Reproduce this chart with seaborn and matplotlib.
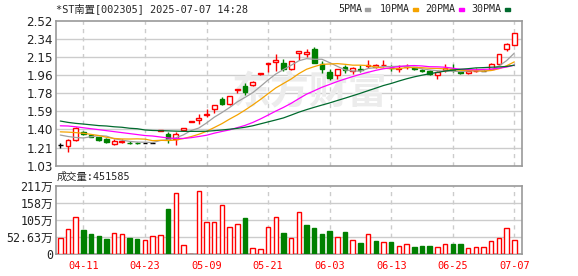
import numpy as np
import pandas as pd
import matplotlib
matplotlib.use("Agg")
import matplotlib.pyplot as plt
from matplotlib.patches import Rectangle
import seaborn as sns

# ---------------- data ----------------
title = "*ST南置[002305] 2025-07-07 14:28"
date_labels = ["04-11", "04-23", "05-09", "05-21", "06-03", "06-13", "06-25", "07-07"]
date_pos = [3, 11, 19, 27, 35, 43, 51, 59]

open_ = [1.243, 1.236, 1.294, 1.380, 1.345, 1.325, 1.300, 1.256, 1.275, 1.268,
         1.265, 1.263, 1.267, 1.390, 1.355, 1.305, 1.395, 1.482, 1.497, 1.550,
         1.610, 1.720, 1.660, 1.810, 1.850, 1.860, 1.975, 2.078, 2.095, 2.090,
         2.020, 2.190, 2.175, 2.225, 2.080, 1.990, 1.960, 2.047, 2.006, 2.020,
         2.058, 2.040, 2.066, 2.033, 2.028, 2.045, 2.040, 2.013, 2.006, 1.965,
         2.016, 2.024, 1.996, 1.980, 2.000, 2.006, 2.020, 2.080, 2.226, 2.270]
close = [1.243, 1.294, 1.420, 1.355, 1.330, 1.295, 1.270, 1.285, 1.287, 1.262,
         1.260, 1.263, 1.267, 1.394, 1.300, 1.355, 1.420, 1.486, 1.523, 1.560,
         1.650, 1.660, 1.746, 1.815, 1.790, 1.890, 1.980, 2.082, 2.120, 2.020,
         2.106, 2.210, 2.195, 2.090, 2.020, 1.930, 2.020, 2.013, 2.030, 2.015,
         2.068, 2.062, 2.068, 2.030, 2.032, 2.048, 2.020, 2.000, 1.970, 1.990,
         2.030, 2.013, 1.980, 2.000, 2.006, 2.006, 2.080, 2.180, 2.280, 2.390]
high = [1.260, 1.300, 1.430, 1.390, 1.360, 1.330, 1.310, 1.300, 1.300, 1.280,
        1.270, 1.268, 1.272, 1.394, 1.380, 1.380, 1.420, 1.486, 1.560, 1.610,
        1.650, 1.740, 1.750, 1.815, 1.877, 1.900, 1.980, 2.082, 2.180, 2.130,
        2.110, 2.210, 2.225, 2.250, 2.110, 2.020, 2.020, 2.060, 2.047, 2.060,
        2.116, 2.080, 2.116, 2.060, 2.060, 2.080, 2.045, 2.020, 2.010, 2.000,
        2.080, 2.070, 2.000, 2.005, 2.030, 2.010, 2.090, 2.180, 2.290, 2.390]
low = [1.215, 1.170, 1.284, 1.345, 1.320, 1.280, 1.260, 1.240, 1.260, 1.255,
       1.255, 1.260, 1.262, 1.390, 1.266, 1.243, 1.395, 1.482, 1.455, 1.530,
       1.570, 1.650, 1.650, 1.780, 1.756, 1.850, 1.960, 1.996, 2.000, 2.000,
       2.010, 2.120, 2.150, 2.085, 1.985, 1.910, 1.920, 1.980, 1.970, 1.996,
       2.030, 2.030, 2.047, 2.000, 1.990, 2.020, 2.010, 1.995, 1.965, 1.918,
       1.996, 1.990, 1.975, 1.975, 1.990, 2.000, 2.015, 2.070, 2.210, 2.270]
pre_close = 1.243
volume_wan = [49, 77, 116, 75, 62, 56, 47, 64, 61, 50,
              47, 44, 55, 58, 139, 187, 28, 0, 193, 99,
              99, 151, 83, 93, 111, 18, 15, 83, 116, 65,
              49, 129, 90, 81, 62, 72, 52, 68, 43, 35,
              61, 41, 37, 38, 25, 31, 22, 26, 26, 21,
              31, 32, 32, 18, 21, 21, 40, 49, 80, 45.16]
last_volume = 451585

ma5 = [1.345, 1.330, 1.320, 1.315, 1.328, 1.339, 1.334, 1.307, 1.293, 1.280,
       1.273, 1.271, 1.268, 1.289, 1.297, 1.316, 1.347, 1.391, 1.417, 1.469,
       1.528, 1.576, 1.628, 1.686, 1.732, 1.780, 1.844, 1.911, 1.972, 2.018,
       2.062, 2.108, 2.130, 2.124, 2.124, 2.089, 2.051, 2.015, 2.003, 2.002,
       2.029, 2.038, 2.049, 2.049, 2.052, 2.048, 2.040, 2.026, 2.014, 2.006,
       2.002, 2.001, 1.997, 2.003, 2.006, 2.001, 2.014, 2.054, 2.110, 2.187]
ma10 = [1.378, 1.375, 1.370, 1.363, 1.352, 1.340, 1.322, 1.310, 1.305, 1.304,
        1.306, 1.303, 1.287, 1.291, 1.288, 1.294, 1.309, 1.329, 1.353, 1.383,
        1.422, 1.462, 1.509, 1.552, 1.601, 1.654, 1.710, 1.770, 1.829, 1.875,
        1.921, 1.976, 2.021, 2.048, 2.071, 2.075, 2.079, 2.072, 2.063, 2.063,
        2.059, 2.044, 2.032, 2.026, 2.027, 2.039, 2.039, 2.037, 2.031, 2.029,
        2.025, 2.020, 2.011, 2.008, 2.006, 2.002, 2.008, 2.026, 2.057, 2.097]
ma20 = [1.440, 1.438, 1.430, 1.420, 1.410, 1.400, 1.390, 1.380, 1.370, 1.360,
        1.350, 1.340, 1.335, 1.325, 1.315, 1.310, 1.310, 1.318, 1.330, 1.343,
        1.364, 1.382, 1.398, 1.421, 1.444, 1.474, 1.510, 1.550, 1.591, 1.629,
        1.671, 1.719, 1.765, 1.800, 1.836, 1.865, 1.895, 1.921, 1.946, 1.969,
        1.990, 2.010, 2.026, 2.037, 2.049, 2.057, 2.059, 2.055, 2.047, 2.046,
        2.042, 2.032, 2.021, 2.017, 2.016, 2.020, 2.023, 2.031, 2.044, 2.063]
ma30 = [1.489, 1.475, 1.465, 1.458, 1.450, 1.442, 1.438, 1.430, 1.425, 1.415,
        1.410, 1.397, 1.392, 1.390, 1.388, 1.385, 1.383, 1.383, 1.383, 1.384,
        1.390, 1.397, 1.405, 1.414, 1.425, 1.440, 1.460, 1.480, 1.500, 1.521,
        1.550, 1.580, 1.606, 1.630, 1.653, 1.675, 1.700, 1.724, 1.749, 1.774,
        1.801, 1.827, 1.854, 1.875, 1.900, 1.923, 1.943, 1.960, 1.975, 1.989,
        2.002, 2.013, 2.021, 2.027, 2.035, 2.038, 2.042, 2.045, 2.050, 2.063]

ma_names = ["5PMA", "10PMA", "20PMA", "30PMA"]
price_labels = ["1.03", "1.21", "1.40", "1.59", "1.78", "1.96", "2.15", "2.34", "2.52"]
price_min, price_max = 1.03, 2.52
vol_labels = ["0", "52.63万", "105万", "158万", "211万"]
vol_max = 210.52

# ---------------- style ----------------
sns.set_style("white")
plt.rcParams["font.family"] = ["DejaVu Sans", "Noto Sans CJK SC"]
MONO = ["DejaVu Sans Mono", "Noto Sans CJK SC"]
UP, DOWN, FLAT = "#ff0000", "#008000", "#000000"
ma_colors = {"5PMA": "#a0a0a0", "10PMA": "#f5a300", "20PMA": "#ff00ff", "30PMA": "#006a2e"}
FRAME = "#999999"
GRID = "#cccccc"

W, H = 578, 276
fig = plt.figure(figsize=(W / 100, H / 100), dpi=100)
fig.patch.set_facecolor("white")


def rect(l, t, r, b):
    return [l / W, 1 - b / H, (r - l) / W, (b - t) / H]


ax = fig.add_axes(rect(55.7, 20.7, 522, 165.7))
axv = fig.add_axes(rect(55.7, 185.7, 522, 254.3))

n = len(close)
idx = np.arange(n)
o = np.array(open_)
c = np.array(close)
prev = np.concatenate([[pre_close], c[:-1]])

cand_col = np.where(c > o, UP, np.where(c < o, DOWN, FLAT))
cand_face = np.where(c > o, "white", cand_col)
vol_col = np.where(c >= prev, UP, DOWN)
vol_face = np.where(c >= prev, "white", DOWN)

# ---------------- price panel ----------------
pticks = np.linspace(price_min, price_max, len(price_labels))
for y in pticks[1:-1]:
    ax.axhline(y, color=GRID, lw=1, zorder=0)
for t in date_pos:
    ax.axvline(t, color=GRID, lw=1, ls=(0, (3, 3)), zorder=0)

ax.text(0.545, 0.5, "东方财富", transform=ax.transAxes, ha="center", va="center",
        fontsize=28, color="#ececec", family="Noto Sans CJK SC", weight="bold", zorder=1)

ax.vlines(idx, low, high, colors=cand_col, lw=1, zorder=2)
ax.bar(idx, np.abs(c - o), bottom=np.minimum(o, c), width=0.62,
       color=cand_face, edgecolor=cand_col, linewidth=1, zorder=3)

ma_df = pd.DataFrame({"idx": idx, "5PMA": ma5, "10PMA": ma10, "20PMA": ma20, "30PMA": ma30})
ma_long = ma_df.melt(id_vars="idx", var_name="ma", value_name="value")
sns.lineplot(data=ma_long, x="idx", y="value", hue="ma", hue_order=ma_names,
             palette=ma_colors, linewidth=0.9, legend=False, ax=ax, zorder=4)

ax.set_xlim(-0.6, n)
ax.set_ylim(price_min, price_max)
ax.set_yticks(pticks)
ax.set_yticklabels(price_labels, fontsize=8.6, color="#222222")
ax.set_xticks([])
ax.set_xlabel("")
ax.set_ylabel("")
ax.tick_params(axis="y", length=0, pad=2)
for s in ax.spines.values():
    s.set_color(FRAME)
    s.set_linewidth(1.2)

# ---------------- volume panel ----------------
vticks = np.linspace(0, vol_max, len(vol_labels))
for y in vticks[1:-1]:
    axv.axhline(y, color=GRID, lw=1, zorder=0)
for t in date_pos:
    axv.axvline(t, color=GRID, lw=1, ls=(0, (3, 3)), zorder=0)
axv.bar(idx, volume_wan, width=0.58, color=vol_face, edgecolor=vol_col,
        linewidth=1, zorder=3)
axv.set_xlim(-0.6, n)
axv.set_ylim(0, vol_max)
axv.set_yticks(vticks)
axv.set_yticklabels(vol_labels, fontsize=8.4, color="#222222", family=MONO)
axv.set_xticks(date_pos)
axv.set_xticklabels(date_labels, fontsize=7.4, color="#ff0000", family=MONO)
axv.tick_params(axis="y", length=0, pad=2)
axv.tick_params(axis="x", length=0, pad=5)
for s in axv.spines.values():
    s.set_color(FRAME)
    s.set_linewidth(1.2)

# ---------------- texts ----------------
fig.text(56 / W, 1 - 8.5 / H, title, fontsize=7.4, family=MONO, va="center", ha="left")
fig.text(57 / W, 1 - 176.5 / H, f"成交量:{last_volume}", fontsize=7.4, family=MONO,
         va="center", ha="left")

leg_text_x = [338.3, 380.0, 425.7, 471.7]
leg_box_x = [365.3, 413.3, 459.3, 505.0]
for name, tx, bx in zip(ma_names, leg_text_x, leg_box_x):
    fig.text(tx / W, 1 - 8.5 / H, name, fontsize=7.2, family=MONO, va="center", ha="left")
    fig.patches.append(Rectangle((bx / W, 1 - 11 / H), 5 / W, 3.5 / H,
                                 transform=fig.transFigure, color=ma_colors[name]))

fig.savefig("out.png", dpi=100, facecolor="white")
